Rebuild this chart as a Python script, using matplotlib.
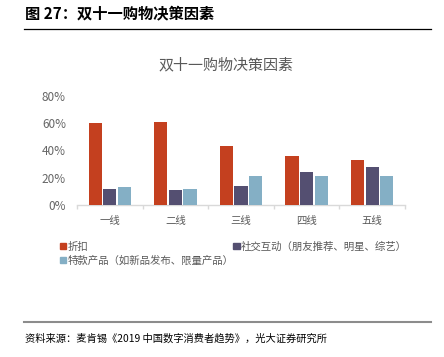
import matplotlib
matplotlib.use("Agg")
import matplotlib.pyplot as plt
import numpy as np
from matplotlib.patches import Patch
from matplotlib.lines import Line2D

plt.rcParams['font.family'] = ['Noto Sans CJK SC', 'DejaVu Sans']

categories = ['一线', '二线', '三线', '四线', '五线']
series_names = ['折扣', '社交互动（朋友推荐、明星、综艺）', '特款产品（如新品发布、限量产品）']
discount = [0.60, 0.61, 0.43, 0.36, 0.33]
social = [0.12, 0.11, 0.14, 0.24, 0.28]
special = [0.13, 0.12, 0.21, 0.21, 0.21]
yticks = [0, 0.2, 0.4, 0.6, 0.8]
ytick_labels = ['0%', '20%', '40%', '60%', '80%']
colors = ['#C4401F', '#544F71', '#84AFC5']

header = '图 27：双十一购物决策因素'
chart_title = '双十一购物决策因素'
source = '资料来源：麦肯锡《2019 中国数字消费者趋势》，光大证券研究所'

W, H = 444, 357
fig = plt.figure(figsize=(W / 100, H / 100), dpi=100)
ax = fig.add_axes([77 / W, 1 - 205 / H, (405 - 77) / W, (205 - 95.7) / H])

x = np.arange(len(categories))
stride = 0.222
width = 0.2
for i, (vals, c) in enumerate(zip([discount, social, special], colors)):
    ax.bar(x + (i - 1) * stride, vals, width, color=c, label=series_names[i], zorder=3)

ax.set_xlim(-0.5, len(categories) - 0.5)
ax.set_ylim(0, 0.8)
ax.set_yticks(yticks)
ax.set_yticklabels(ytick_labels, fontsize=8.5, color='#666666')
ax.set_xticks(x)
ax.set_xticklabels(categories, fontsize=7.5, color='#595959')
ax.tick_params(axis='y', length=0, pad=8)
ax.tick_params(axis='x', length=0, pad=8)
for s in ['top', 'right', 'left']:
    ax.spines[s].set_visible(False)
ax.spines['bottom'].set_color('#D9D9D9')
ax.spines['bottom'].set_linewidth(1.0)
ax.set_xticks(np.arange(-0.5, len(categories), 1.0), minor=True)
ax.tick_params(axis='x', which='minor', length=3, color='#D9D9D9', width=1)

fig.text(226 / W, 1 - 65.5 / H, chart_title, fontsize=10.8, color='#595959', ha='center', va='center')

handles = [Patch(color=c) for c in colors]
order = [0, 2, 1]
leg = fig.legend([handles[k] for k in order], [series_names[k] for k in order],
                 ncol=2, loc='upper left', bbox_to_anchor=(59.5 / W, 1 - 241.5 / H),
                 frameon=False, fontsize=7.5, handlelength=0.6, handleheight=0.6,
                 handletextpad=0.15, columnspacing=0.0, labelspacing=0.35,
                 borderpad=0, borderaxespad=0)
for t in leg.get_texts():
    t.set_color('#595959')

fig.text(24.5 / W, 1 - 13 / H, header, fontsize=11, fontweight='bold', va='center', ha='left', color='#000000')
fig.add_artist(Line2D([24 / W, 431 / W], [1 - 29.3 / H] * 2, color='#000000', lw=0.9))
fig.add_artist(Line2D([24 / W, 431 / W], [1 - 321.7 / H] * 2, color='#8C8C8C', lw=1.5))
fig.text(24.5 / W, 1 - 339 / H, source, fontsize=7.4, va='center', ha='left', color='#000000')

fig.savefig('out.png', dpi=100)
